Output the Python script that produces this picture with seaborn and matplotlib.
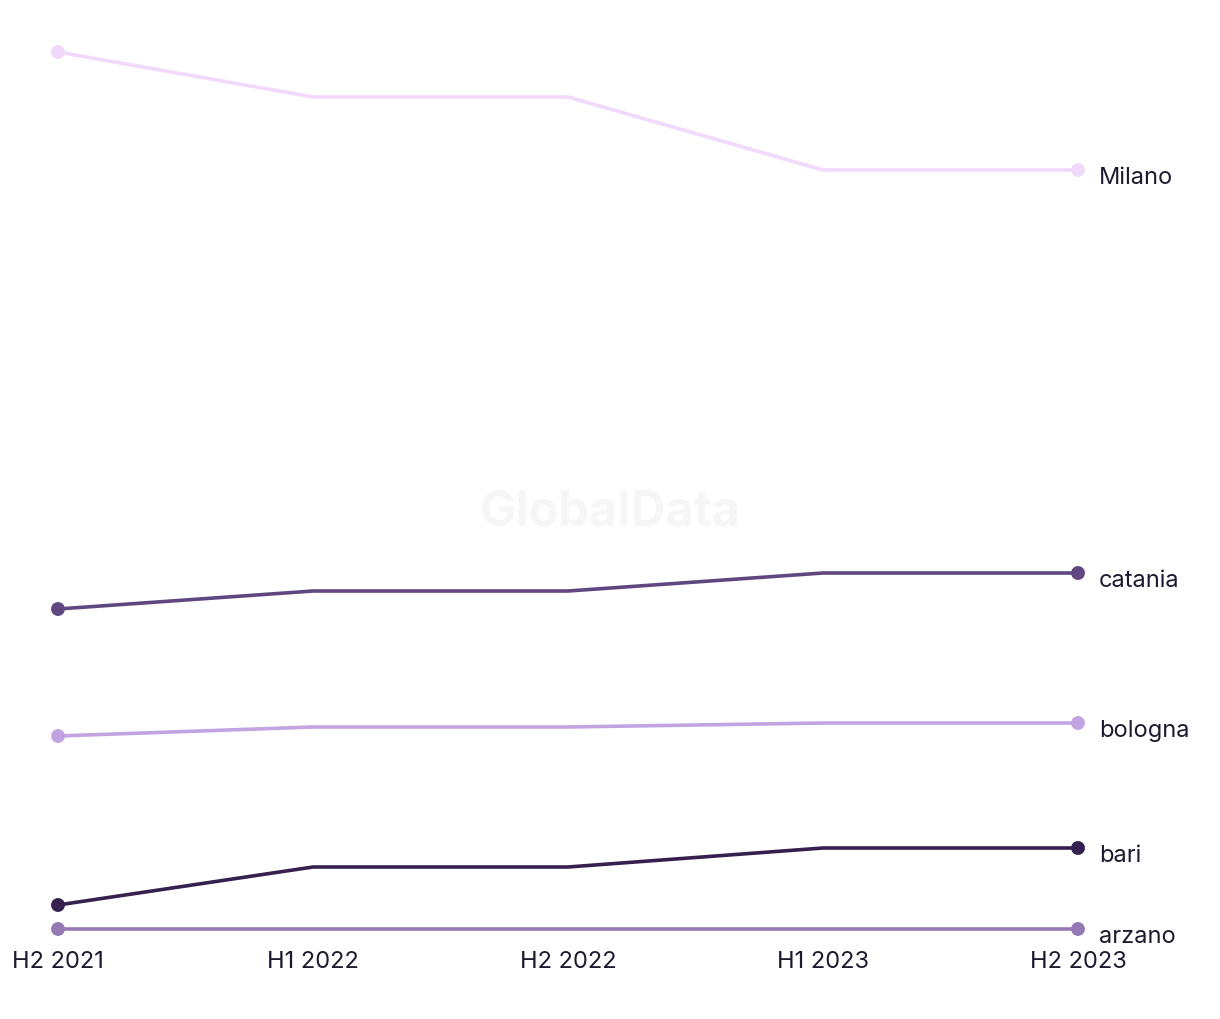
import seaborn as sns
import numpy as np
import pandas as pd
import matplotlib
matplotlib.use("Agg")
import matplotlib.pyplot as plt

periods = ["H2 2021", "H1 2022", "H2 2022", "H1 2023", "H2 2023"]
cities = ["Milano", "catania", "bologna", "bari", "arzano"]

# values (arbitrary units, no axis shown)
milano = [87.7, 83.2, 83.2, 75.9, 75.9]
catania = [32.0, 33.8, 33.8, 35.6, 35.6]
bologna = [19.3, 20.2, 20.2, 20.6, 20.6]
bari = [2.4, 6.2, 6.2, 8.1, 8.1]
arzano = [0.0, 0.0, 0.0, 0.0, 0.0]

colors = ["#f1d9fb", "#5f4882", "#c1a5e3", "#36204f", "#9479b5"]

series = [milano, catania, bologna, bari, arzano]
df = pd.DataFrame({
    "period": periods * len(cities),
    "x": list(range(len(periods))) * len(cities),
    "city": [c for c in cities for _ in periods],
    "value": [v for s in series for v in s],
})
ends = df[df["x"].isin([0, len(periods) - 1])]

sns.set_style("white")
plt.rcParams["font.family"] = ["Inter", "DejaVu Sans"]

fig = plt.figure(figsize=(12.2, 10.2), dpi=100)
ax = fig.add_axes([58 / 1220, 90 / 1020, 1020 / 1220, 877 / 1020])

sns.lineplot(data=df, x="x", y="value", hue="city", hue_order=cities,
             palette=colors, linewidth=2.6, legend=False, ax=ax)
# dots only on the first and last point of each line
sns.scatterplot(data=ends, x="x", y="value", hue="city", hue_order=cities,
                palette=colors, s=100, linewidth=0, legend=False, ax=ax,
                zorder=3, clip_on=False)
for line in ax.lines:
    line.set_clip_on(False)

text_color = "#1b1a2e"
for city, vals in zip(cities, series):
    ax.annotate(city, (len(periods) - 1, vals[-1]), xytext=(15, -5),
                textcoords="offset points", va="center", ha="left",
                fontsize=17, color=text_color, annotation_clip=False)

ax.set_xlim(0, len(periods) - 1)
ax.set_ylim(0, max(milano))
ax.set_xticks(range(len(periods)))
ax.set_xticklabels(periods, fontsize=17, color=text_color)
ax.tick_params(axis="x", length=0, pad=15)
ax.set_yticks([])
ax.set_xlabel("")
ax.set_ylabel("")
sns.despine(ax=ax, left=True, bottom=True)

fig.text(0.5, 1 - 512 / 1020, "GlobalData", ha="center", va="center",
         fontsize=35, fontweight="bold", color="#f6f6f6", zorder=0)

fig.savefig("out.png", dpi=100, facecolor="white")
